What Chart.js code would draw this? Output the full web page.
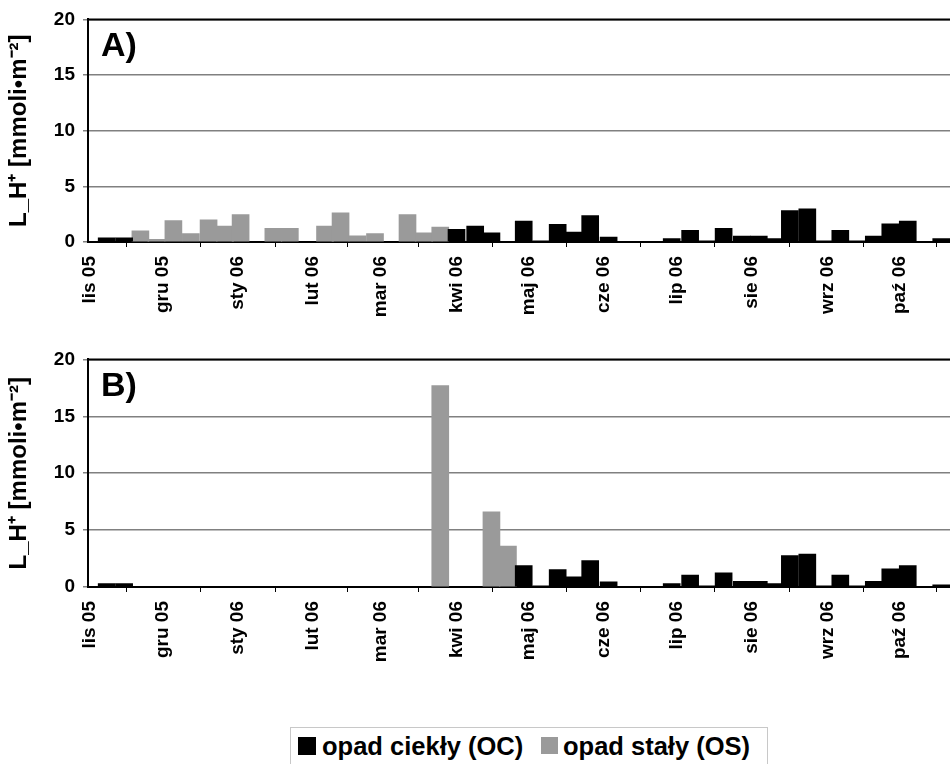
<!DOCTYPE html>
<html><head><meta charset="utf-8">
<script src="https://cdn.jsdelivr.net/npm/chart.js@4.4.1/dist/chart.umd.min.js"></script>
<style>
html,body{margin:0;padding:0;background:#fff;width:950px;height:764px;overflow:hidden;position:relative;font-family:"Liberation Sans",Arial,sans-serif;}
canvas{position:absolute;left:0;}
#cA{top:0;} #cB{top:340px;}
#legend{position:absolute;left:290px;top:727px;width:478px;height:45px;border:1px solid #c8c8c8;box-sizing:border-box;font-weight:bold;font-size:25.5px;color:#000;}
#legend .sw{position:absolute;top:9px;width:18px;height:18px;}
#legend .tx{position:absolute;top:4px;line-height:28px;white-space:nowrap;}
</style></head>
<body>
<canvas id="cA" width="990" height="340"></canvas>
<canvas id="cB" width="990" height="340"></canvas>
<div id="legend"></div>
<script>
// Month ticks (days since 1 Nov 2005) and their labels
const monthTickDays = [0, 30, 61, 92, 120, 151, 181, 212, 242, 273, 304, 334];
const monthLabels = ['lis 05','gru 05','sty 06','lut 06','mar 06','kwi 06','maj 06','cze 06','lip 06','sie 06','wrz 06','paź 06'];
const yTicks = [0, 5, 10, 15, 20];
const seriesNames = ['opad ciekły (OC)', 'opad stały (OS)'];
const panelNames = ['A)', 'B)'];
const yTitle = 'L_H⁺ [mmoli•m⁻²]';

// Sampling periods: centre of each (approx. weekly) period, days since 1 Nov 2005
const periodDays = [6.9, 14.1, 20.8, 27.4, 34.4, 41.6, 48.9, 55.7, 62.1, 75.6, 82.4, 96.9, 103.3, 110.3, 117.5,
  130.9, 137.7, 144.4, 151.1, 158.8, 165.5, 172.3, 178.8, 186.0, 192.8, 199.4, 206.2, 213.8, 220.5, 226.8,
  233.1, 239.8, 247.4, 254.4, 261.2, 268.7, 275.7, 282.1, 288.5, 295.7, 302.3, 309.3, 316.5, 323.1, 329.9,
  337.1, 344.1, 350.9];

// Panel A
const panelA_OC = [0.38, 0.38, null, null, null, null, null, null, null, null, null, null, null, null, null,
  null, null, null, 1.13, 1.43, 0.83, null, 1.88, 0.1, 1.58, 0.9, 2.38, 0.45, 0.05, 0.05,
  0.05, 0.3, 1.04, 0.1, 1.22, 0.54, 0.54, 0.3, 2.83, 2.97, 0.1, 1.04, 0.1, 0.54, 1.63,
  1.88, 0.05, 0.3];
const panelA_OS = [null, null, 1.0, 0.25, 1.93, 0.75, 2.0, 1.43, 2.47, 1.22, 1.22, 1.43, 2.62, 0.55, 0.75,
  2.47, 0.83, 1.34, null, null, null, null, null, null, null, null, null, null, null, null,
  null, null, null, null, null, null, null, null, null, null, null, null, null, null, null,
  null, null, null];

// Panel B
const panelB_OC = [0.3, 0.3, null, null, null, null, null, null, null, null, null, null, null, null, null,
  null, null, null, null, null, null, null, 1.89, 0.1, 1.53, 0.9, 2.33, 0.45, 0.05, 0.05,
  0.05, 0.3, 1.04, 0.1, 1.24, 0.5, 0.5, 0.3, 2.76, 2.9, 0.1, 1.04, 0.1, 0.5, 1.6,
  1.89, 0.05, 0.2];
const panelB_OS = [null, null, null, null, null, null, null, null, null, null, null, null, null, null, null,
  null, null, 17.7, null, null, 6.6, 3.6, null, null, null, null, null, null, null, null,
  null, null, null, null, null, null, null, null, null, null, null, null, null, null, null,
  null, null, null];

const FONT = '"Liberation Sans", Arial, sans-serif';
const OC_COLOR = '#000000';
const OS_COLOR = '#9a9a9a';

const framePlugin = {
  id: 'frame',
  afterDraw(chart, args, opts) {
    const {ctx, chartArea: a} = chart;
    ctx.save();
    ctx.strokeStyle = '#000';
    ctx.lineWidth = 2;
    ctx.beginPath();
    ctx.moveTo(a.left - 1, a.top);
    ctx.lineTo(a.right, a.top);
    ctx.stroke();
    ctx.font = 'bold 34px ' + FONT;
    ctx.fillStyle = '#000';
    ctx.textBaseline = 'middle';
    ctx.textAlign = 'left';
    ctx.fillText(opts.label, a.left + 13, a.top + 27);
    ctx.restore();
  }
};

function makeChart(id, label, oc, os, padTop, xHeight) {
  const toPts = arr => periodDays.map((d, i) => ({x: d, y: arr[i]}));
  return new Chart(document.getElementById(id), {
    type: 'bar',
    data: {
      datasets: [
        {label: seriesNames[0], data: toPts(oc), backgroundColor: OC_COLOR, borderWidth: 0, barThickness: 17, grouped: false},
        {label: seriesNames[1], data: toPts(os), backgroundColor: OS_COLOR, borderWidth: 0, barThickness: 17, grouped: false}
      ]
    },
    options: {
      responsive: false,
      animation: false,
      devicePixelRatio: 1,
      layout: {padding: {top: padTop, left: 0, right: 0, bottom: 0}},
      plugins: {legend: {display: false}, tooltip: {enabled: false}, frame: {label: label}},
      scales: {
        x: {
          type: 'linear', min: -0.8, max: 371, offset: false,
          afterBuildTicks: s => { s.ticks = monthTickDays.map(v => ({value: v})); },
          afterFit: s => { s.height = xHeight; },
          ticks: {autoSkip: false, minRotation: 90, maxRotation: 90, padding: 9, color: '#000',
            font: {family: FONT, size: 19, weight: 'bold'},
            callback: (v, i) => monthLabels[i]},
          grid: {drawOnChartArea: false, drawTicks: true, tickLength: 5, color: '#000', lineWidth: 1},
          border: {display: true, color: '#000', width: 2}
        },
        y: {
          min: 0, max: 20,
          afterBuildTicks: s => { s.ticks = yTicks.map(v => ({value: v})); },
          afterFit: s => { s.width = 88; },
          ticks: {padding: 8, color: '#000', font: {family: FONT, size: 19, weight: 'bold'}},
          grid: {color: '#808080', lineWidth: 1.5, tickLength: 5, drawTicks: true},
          border: {display: true, color: '#000', width: 2},
          title: {display: true, text: yTitle, color: '#000', font: {family: FONT, size: 24, weight: 'bold'}, padding: {top: 5, bottom: 0}}
        }
      }
    },
    plugins: [framePlugin]
  });
}

makeChart('cA', panelNames[0], panelA_OC, panelA_OS, 15, 98);
makeChart('cB', panelNames[1], panelB_OC, panelB_OS, 16, 93);

// Legend
const lg = document.getElementById('legend');
lg.innerHTML =
  '<span class="sw" style="left:7px;background:' + OC_COLOR + '"></span>' +
  '<span class="tx" style="left:31px">' + seriesNames[0] + '</span>' +
  '<span class="sw" style="left:250px;background:' + OS_COLOR + ';width:17px;height:17px"></span>' +
  '<span class="tx" style="left:272px">' + seriesNames[1] + '</span>';
</script>
</body></html>
